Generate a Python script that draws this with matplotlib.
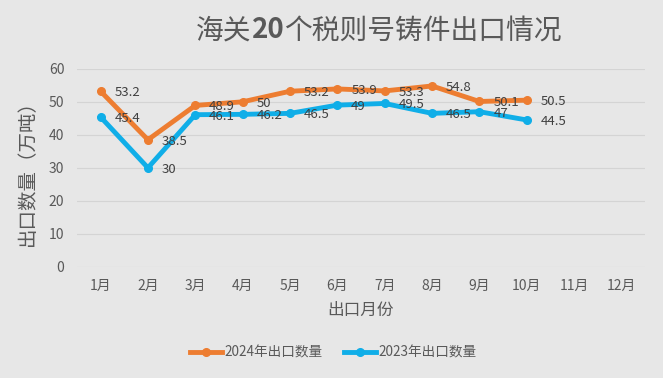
"""Customs export chart for 20 tariff lines of castings."""

import matplotlib
matplotlib.use("Agg")
import matplotlib.pyplot as plt
import numpy as np

plt.rcParams["font.family"] = ["Noto Sans CJK SC", "DejaVu Sans"]

months = ["1月", "2月", "3月", "4月", "5月", "6月", "7月", "8月", "9月", "10月", "11月", "12月"]
export_2024 = [53.2, 38.5, 48.9, 50, 53.2, 53.9, 53.3, 54.8, 50.1, 50.5]
export_2023 = [45.4, 30, 46.1, 46.2, 46.5, 49, 49.5, 46.5, 47, 44.5]
yticks = [0, 10, 20, 30, 40, 50, 60]
title_parts = [("海关", "normal"), ("20", "bold"), ("个税则号铸件出口情况", "normal")]

bg = "#e7e7e7"
text_c = "#595959"
orange = "#ED7D31"
blue = "#10AEE8"

fig = plt.figure(figsize=(6.63, 3.78), dpi=100, facecolor=bg)
ax = fig.add_axes([0.116, 0.294, 0.857, 0.524], facecolor=bg)

x = np.arange(len(months))
for vals, color, label in [(export_2024, orange, "2024年出口数量"),
                           (export_2023, blue, "2023年出口数量")]:
    xs = x[:len(vals)]
    ax.plot(xs, vals, color=color, lw=3.5, marker="o", ms=5.5, label=label,
            solid_joinstyle="round", zorder=3)
    for xi, v in zip(xs, vals):
        ax.annotate(f"{v:g}", (xi, v), xytext=(10, -1), textcoords="offset points",
                    ha="left", va="center", fontsize=9.5, color="#404040", zorder=4)

ax.set_xlim(-0.5, len(months) - 0.5)
ax.set_ylim(0, 60)
ax.set_xticks(x)
ax.set_xticklabels(months)
ax.set_yticks(yticks)
ax.tick_params(axis="x", length=0, labelsize=10, colors=text_c, pad=9)
ax.tick_params(axis="y", length=0, labelsize=10, colors=text_c, pad=9)
ax.grid(axis="y", color="#d4d4d4", lw=0.8)
ax.set_axisbelow(True)
for s in ax.spines.values():
    s.set_visible(False)

ax.set_xlabel("出口月份", fontsize=12, color=text_c, labelpad=6)
ax.set_ylabel("出口数量（万吨）", fontsize=14, color=text_c, labelpad=8)

# title with bold digits, pieces chained left to right
prev = None
for part, weight in title_parts:
    if prev is None:
        prev = fig.text(0.296, 0.92, part, ha="left", va="center", fontsize=20,
                        fontweight=weight, color=text_c)
    else:
        prev = ax.annotate(part, xy=(1, 0.5), xycoords=prev, ha="left", va="center",
                           fontsize=20, fontweight=weight, color=text_c,
                           annotation_clip=False)

fig.legend(loc="center", bbox_to_anchor=(0.503, 0.068), ncol=2, frameon=False,
           fontsize=9.8, labelcolor=text_c, handlelength=2.3, handletextpad=0.2,
           columnspacing=1.6)

fig.savefig("out.png", dpi=100, facecolor=bg)
